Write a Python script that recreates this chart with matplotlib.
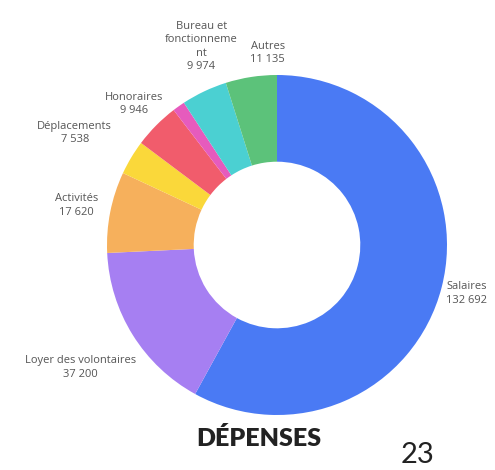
import numpy as np
import matplotlib.pyplot as plt

# depenses, sens horaire depuis midi
categories = ['Salaires', 'Loyer des volontaires', 'Activités', 'Déplacements',
              'Honoraires', '', 'Bureau et\nfonctionneme\nnt', 'Autres']
values = [132692, 37200, 17620, 7538, 9946, 2700, 9974, 11135]
value_labels = ['132 692', '37 200', '17 620', '7 538', '9 946', '', '9 974', '11 135']
colors = ['#4a7af4', '#a67ff2', '#f6b05c', '#fad83a', '#f15c6c', '#e65bbd',
          '#4bd0d2', '#5cc27a']

# pixel layout helpers (figure is 495x470 at 100 dpi)
cx, cy, R = 277, 245, 170
label_r = [1.15, 1.36, 1.2, 1.36, 1.18, 1.2, 1.25, 1.13]
label_shift = [0, 0, 0, 2, 0, 0, -4.5, -6]  # degrees, nudge off the midpoint

fig = plt.figure(figsize=(4.95, 4.70), dpi=100)
ax = fig.add_axes([0, 0, 1, 1])

wedges, _ = ax.pie(values, colors=colors, startangle=90, counterclock=False,
                   radius=1, wedgeprops=dict(width=0.51, edgecolor='none'))

ax.set_xlim(-cx / R, (495 - cx) / R)
ax.set_ylim(-(470 - cy) / R, cy / R)
ax.set_aspect('equal')
ax.axis('off')

for w, name, val, r, sh in zip(wedges, categories, value_labels, label_r, label_shift):
    if not name:
        continue
    ang = np.deg2rad((w.theta1 + w.theta2) / 2 + sh)
    ax.text(r * np.cos(ang), r * np.sin(ang), name + '\n' + val,
            ha='center', va='center', fontsize=8, color='#555555',
            family='Open Sans', linespacing=1.3)

fig.text(259 / 495, 1 - 439 / 470, 'DÉPENSES', ha='center', va='center',
         fontsize=18, fontweight='heavy', family='Lato', color='#222222')
fig.text(418 / 495, 1 - 455 / 470, '23', ha='center', va='center',
         fontsize=21, family='Lato', color='#222222')

fig.savefig('out.png', dpi=100, facecolor='white')
